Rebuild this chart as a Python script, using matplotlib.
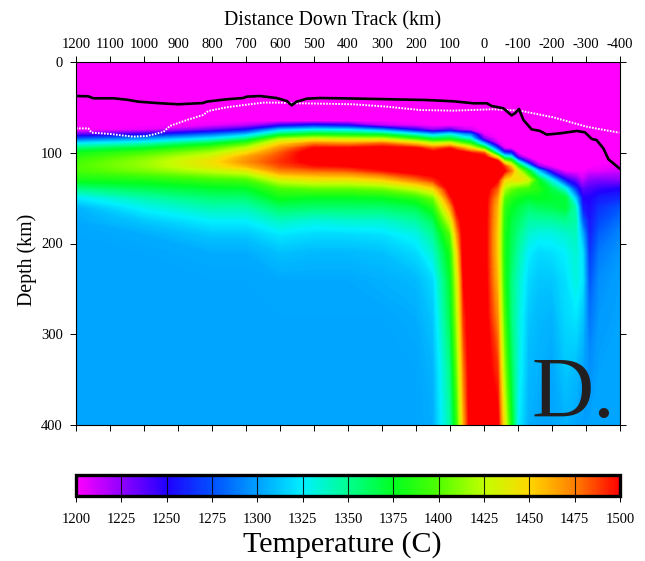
#!/usr/bin/env python3
"""Mantle temperature cross section along track, with two depth lines on top."""

import matplotlib
matplotlib.use("Agg")
import matplotlib.pyplot as plt
import numpy as np
from matplotlib.cm import ScalarMappable
from matplotlib.colors import LinearSegmentedColormap, Normalize

# grid the temperatures were read on
distance_km = [1200, 1000, 800, 700, 600, 500, 400, 300, 200, 150, 100, 80, 60, 40, 0,
               -40, -60, -80, -100, -130, -160, -200, -240, -270, -290, -310, -340, -400]
depth_km = [0, 65, 70, 75, 80, 85, 90, 95, 100, 105, 110, 115, 120, 130, 140, 150,
            160, 175, 190, 210, 240, 280, 340, 400]

# one line per distance, top to bottom in depth
temp_profiles = [
    [1200, 1200, 1200, 1200, 1235, 1280, 1325, 1355, 1378, 1388, 1395, 1398, 1396, 1380, 1350, 1322, 1306, 1303, 1302, 1302, 1302, 1302, 1302, 1302],
    [1200, 1200, 1200, 1205, 1250, 1300, 1340, 1372, 1395, 1408, 1415, 1415, 1408, 1382, 1362, 1342, 1328, 1312, 1304, 1302, 1302, 1302, 1302, 1302],
    [1200, 1200, 1205, 1235, 1285, 1330, 1370, 1400, 1420, 1435, 1445, 1440, 1425, 1392, 1370, 1355, 1342, 1325, 1312, 1304, 1302, 1302, 1302, 1302],
    [1200, 1200, 1215, 1255, 1310, 1355, 1395, 1425, 1447, 1465, 1470, 1458, 1435, 1395, 1372, 1356, 1342, 1325, 1312, 1304, 1302, 1302, 1302, 1302],
    [1200, 1200, 1245, 1315, 1365, 1420, 1450, 1470, 1482, 1487, 1490, 1484, 1472, 1430, 1395, 1378, 1360, 1338, 1322, 1310, 1303, 1302, 1302, 1302],
    [1200, 1200, 1260, 1330, 1380, 1435, 1475, 1500, 1510, 1510, 1505, 1495, 1478, 1440, 1400, 1373, 1358, 1332, 1318, 1308, 1303, 1302, 1302, 1302],
    [1200, 1200, 1250, 1325, 1375, 1430, 1470, 1500, 1510, 1510, 1510, 1498, 1482, 1440, 1400, 1373, 1358, 1335, 1318, 1308, 1303, 1302, 1302, 1302],
    [1200, 1200, 1215, 1300, 1370, 1430, 1480, 1505, 1510, 1510, 1510, 1505, 1495, 1450, 1405, 1375, 1358, 1335, 1320, 1310, 1305, 1302, 1302, 1302],
    [1200, 1200, 1205, 1250, 1335, 1395, 1455, 1500, 1510, 1510, 1510, 1510, 1508, 1475, 1425, 1385, 1365, 1345, 1330, 1318, 1308, 1304, 1302, 1302],
    [1200, 1200, 1200, 1225, 1310, 1370, 1430, 1480, 1505, 1510, 1510, 1510, 1510, 1490, 1445, 1405, 1385, 1362, 1348, 1335, 1318, 1312, 1306, 1304],
    [1200, 1200, 1200, 1240, 1330, 1375, 1440, 1495, 1510, 1510, 1510, 1510, 1510, 1510, 1508, 1490, 1465, 1430, 1400, 1382, 1372, 1365, 1352, 1345],
    [1200, 1200, 1200, 1225, 1315, 1365, 1420, 1480, 1510, 1510, 1510, 1510, 1510, 1510, 1510, 1510, 1505, 1485, 1465, 1445, 1430, 1420, 1405, 1390],
    [1200, 1200, 1200, 1215, 1300, 1350, 1405, 1465, 1505, 1510, 1510, 1510, 1510, 1510, 1510, 1510, 1510, 1510, 1510, 1510, 1500, 1490, 1475, 1462],
    [1200, 1200, 1200, 1210, 1290, 1340, 1390, 1445, 1495, 1510, 1510, 1510, 1510, 1510, 1510, 1510, 1510, 1510, 1510, 1510, 1510, 1510, 1510, 1510],
    [1200, 1200, 1200, 1200, 1205, 1230, 1310, 1390, 1480, 1510, 1510, 1510, 1510, 1510, 1510, 1510, 1510, 1510, 1510, 1510, 1510, 1510, 1510, 1510],
    [1200, 1200, 1200, 1200, 1200, 1200, 1210, 1270, 1335, 1440, 1510, 1510, 1510, 1500, 1480, 1465, 1458, 1455, 1452, 1452, 1458, 1470, 1490, 1505],
    [1200, 1200, 1200, 1200, 1200, 1200, 1200, 1205, 1265, 1350, 1430, 1490, 1500, 1450, 1420, 1400, 1390, 1386, 1383, 1382, 1385, 1395, 1415, 1440],
    [1200, 1200, 1200, 1200, 1200, 1200, 1200, 1200, 1255, 1335, 1400, 1455, 1475, 1440, 1405, 1385, 1375, 1368, 1365, 1362, 1355, 1355, 1365, 1380],
    [1200, 1200, 1200, 1200, 1200, 1200, 1200, 1200, 1200, 1235, 1330, 1390, 1430, 1445, 1395, 1378, 1368, 1360, 1352, 1345, 1338, 1335, 1332, 1325],
    [1200, 1200, 1200, 1200, 1200, 1200, 1200, 1200, 1200, 1200, 1240, 1320, 1375, 1430, 1392, 1372, 1358, 1345, 1335, 1325, 1318, 1312, 1308, 1305],
    [1200, 1200, 1200, 1200, 1200, 1200, 1200, 1200, 1200, 1200, 1200, 1225, 1310, 1375, 1385, 1375, 1362, 1345, 1330, 1318, 1312, 1308, 1305, 1302],
    [1200, 1200, 1200, 1200, 1200, 1200, 1200, 1200, 1200, 1200, 1200, 1200, 1230, 1325, 1365, 1372, 1365, 1345, 1330, 1320, 1312, 1306, 1302, 1302],
    [1200, 1200, 1200, 1200, 1200, 1200, 1200, 1200, 1200, 1200, 1200, 1200, 1200, 1250, 1330, 1370, 1370, 1350, 1335, 1325, 1320, 1318, 1312, 1305],
    [1200, 1200, 1200, 1200, 1200, 1200, 1200, 1200, 1200, 1200, 1200, 1200, 1200, 1230, 1265, 1310, 1340, 1345, 1340, 1335, 1332, 1322, 1308, 1302],
    [1200, 1200, 1200, 1200, 1200, 1200, 1200, 1200, 1200, 1200, 1200, 1200, 1200, 1212, 1235, 1250, 1258, 1280, 1305, 1320, 1322, 1312, 1302, 1300],
    [1200, 1200, 1200, 1200, 1200, 1200, 1200, 1200, 1200, 1200, 1200, 1200, 1205, 1225, 1240, 1250, 1252, 1255, 1258, 1265, 1275, 1285, 1295, 1301],
    [1200, 1200, 1200, 1200, 1200, 1200, 1200, 1200, 1200, 1200, 1200, 1202, 1205, 1228, 1245, 1258, 1265, 1272, 1280, 1288, 1295, 1298, 1301, 1302],
    [1200, 1200, 1200, 1200, 1200, 1200, 1200, 1200, 1200, 1200, 1200, 1205, 1210, 1225, 1250, 1262, 1275, 1285, 1292, 1297, 1300, 1301, 1302, 1302],
]

# black line
black_dist = [1200, 1164, 1149, 1090, 1051, 1017, 963, 899, 826, 816, 757, 708, 698, 659, 610, 580,
              566, 551, 521, 482, 424, 365, 169, 90, 31, -8, -23, -57, -81, -91, -103, -116,
              -140, -165, -184, -224, -273, -297, -317, -331, -351, -366, -398]
black_depth = [37.5, 37.8, 40, 40, 41.5, 43.7, 45.2, 46.6, 45.2, 43.7, 41.1, 39.7, 38.2, 37.5, 39.7, 43,
               47.7, 43.7, 40.4, 39.7, 40, 40.4, 41.9, 43.3, 45.5, 45.5, 48.5, 51, 58.8, 56.5, 51.8, 63.9,
               74.2, 76, 80, 78.6, 76, 77.5, 84.8, 86, 95.1, 107.2, 117.2]

# white dotted line
white_dist = [1200, 1164, 1154, 1100, 1031, 992, 943, 924, 874, 826, 811, 757, 698, 649, 600, 551,
              482, 424, 384, 286, 188, 90, -27, -106, -204, -302, -398]
white_depth = [73.1, 73.1, 77.9, 79.3, 82.3, 81.5, 77.1, 70.5, 63.9, 58.4, 54, 49.9, 47, 44.8, 44.8, 45.5,
               45.9, 46.3, 46.6, 49.2, 52.9, 53.6, 52.1, 53.6, 61, 71.3, 77.9]

# colour bar stops
cbar_values = [1200, 1225, 1250, 1275, 1300, 1325, 1350, 1375, 1400, 1425, 1450, 1475, 1500]
cbar_colors = ["#ff00ff", "#9000ff", "#2000ff", "#0050ff", "#00a0ff", "#00f0ff", "#00ff90",
               "#00ff20", "#50ff00", "#c0ff00", "#ffd800", "#ff8000", "#ff0000"]

distance_ticks = [1200, 1100, 1000, 900, 800, 700, 600, 500, 400, 300, 200, 100, 0,
                  -100, -200, -300, -400]
depth_ticks = [0, 100, 200, 300, 400]

plt.rcParams["font.family"] = ["Liberation Serif", "DejaVu Serif"]
plt.rcParams["axes.unicode_minus"] = False

W, H = 645, 561
fig = plt.figure(figsize=(W / 100, H / 100), dpi=100)
ax = fig.add_axes([76 / W, 1 - 425 / H, 544 / W, 363 / H])

vmin, vmax = cbar_values[0], cbar_values[-1]
stops = [(v - vmin) / (vmax - vmin) for v in cbar_values]
cmap = LinearSegmentedColormap.from_list("temp", list(zip(stops, cbar_colors)), N=512)
norm = Normalize(vmin, vmax)

temps = np.array(temp_profiles, dtype=float).T
ax.contourf(distance_km, depth_km, temps, levels=np.arange(1200, 1501, 1),
            cmap=cmap, norm=norm, extend="both")

ax.plot(white_dist, white_depth, color="white", lw=1.4, ls=(0, (0.85, 0.7)))
ax.plot(black_dist, black_depth, color="black", lw=1.9, solid_joinstyle="round")

ax.set_xlim(1200, -400)
ax.set_ylim(400, 0)
ax.set_xticks(distance_ticks)
ax.set_xticklabels([str(v) for v in distance_ticks])
ax.set_yticks(depth_ticks)
ax.tick_params(axis="both", which="major", top=True, bottom=True, left=True, right=True,
               labeltop=True, labelbottom=False, labelleft=True, labelright=False,
               length=4.5, width=0.7, labelsize=10.5)
ax.tick_params(axis="x", pad=3.5)
ax.tick_params(axis="y", pad=5)
ax.xaxis.set_label_position("top")
ax.set_xlabel("Distance Down Track (km)", fontsize=14.3, labelpad=9, x=0.472)
ax.set_ylabel("Depth (km)", fontsize=14.3, labelpad=3, y=0.456)
for spine in ax.spines.values():
    spine.set_linewidth(0.8)

# baseline given in display pixels from the bottom of the figure
ax.text(532, H - 417, "D.", transform=None, fontsize=62, color="#231f20",
        ha="left", va="baseline")

# colour bar under the section
cax = fig.add_axes([76 / W, 1 - 496 / H, 544 / W, 21 / H])
cb = fig.colorbar(ScalarMappable(norm=norm, cmap=cmap), cax=cax, orientation="horizontal",
                  ticks=cbar_values)
cb.ax.tick_params(length=4, width=0.7, pad=8, labelsize=10.5)
cb.ax.set_xticklabels([str(v) for v in cbar_values])
cb.outline.set_linewidth(2.4)
for v in cbar_values[1:-1]:
    cax.axvline(v, color="black", lw=0.8, alpha=0.85)

fig.text(342 / W, 1 - 545 / H, "Temperature (C)", fontsize=21.6, ha="center", va="center")

fig.savefig("out.png", dpi=100)
